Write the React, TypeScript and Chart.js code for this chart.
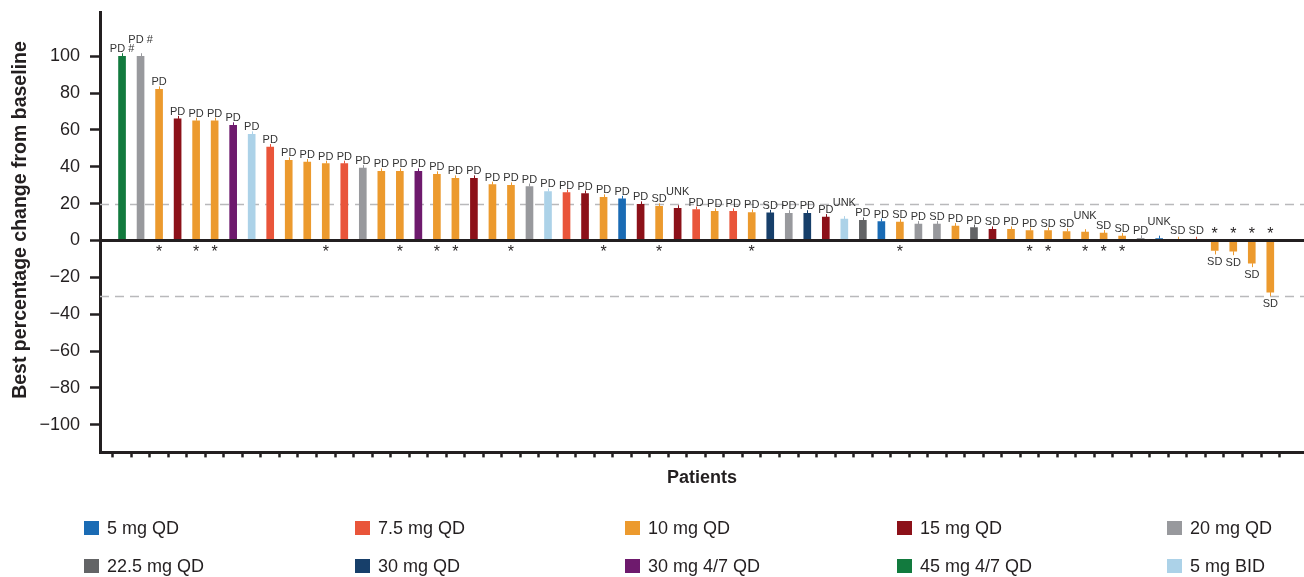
import React, { useEffect, useRef } from "react";
import { Chart, registerables } from "chart.js";

Chart.register(...registerables);

// Dose groups (legend order)
const doseGroups = [
  "5 mg QD",
  "7.5 mg QD",
  "10 mg QD",
  "15 mg QD",
  "20 mg QD",
  "22.5 mg QD",
  "30 mg QD",
  "30 mg 4/7 QD",
  "45 mg 4/7 QD",
  "5 mg BID",
];
const doseColors = [
  "#1a6bb4",
  "#e9553a",
  "#ec9a2e",
  "#8c1119",
  "#98999d",
  "#636466",
  "#173f6a",
  "#6e1a6d",
  "#127a3e",
  "#acd2e8",
];

// Best percentage change from baseline, one per patient (sorted)
const bestChange = [
  100, 100, 82, 66, 65, 65, 62.5, 57.6, 50.7, 43.5,
  42.6, 41.7, 41.7, 39.3, 37.5, 37.5, 37.5, 35.9, 33.7, 33.7,
  30.3, 29.9, 29.3, 26.6, 26, 25.5, 23.4, 22.6, 19.6, 18.5,
  17.5, 16.8, 15.8, 15.8, 15.2, 15, 14.8, 14.8, 12.7, 11.6,
  10.9, 10.3, 10, 8.9, 8.9, 7.8, 7, 6, 6, 5.4,
  5.4, 4.9, 4.5, 4, 2.4, 1.2, 1, 0.4, 0.4, -5.4,
  -5.8, -12.3, -28,
];

// Dose group index per patient (into doseGroups)
const patientDose = [
  8, 4, 2, 3, 2, 2, 7, 9, 1, 2,
  2, 2, 1, 4, 2, 2, 7, 2, 2, 3,
  2, 2, 4, 9, 1, 3, 2, 0, 3, 2,
  3, 1, 2, 1, 2, 6, 4, 6, 3, 9,
  5, 0, 2, 4, 4, 2, 5, 3, 2, 2,
  2, 2, 2, 2, 2, 4, 0, 2, 1, 2,
  2, 2, 2,
];

// Best response per patient
const responses = [
  "PD #", "PD #", "PD", "PD", "PD", "PD", "PD", "PD", "PD", "PD",
  "PD", "PD", "PD", "PD", "PD", "PD", "PD", "PD", "PD", "PD",
  "PD", "PD", "PD", "PD", "PD", "PD", "PD", "PD", "PD", "SD",
  "UNK", "PD", "PD", "PD", "PD", "SD", "PD", "PD", "PD", "UNK",
  "PD", "PD", "SD", "PD", "SD", "PD", "PD", "SD", "PD", "PD",
  "SD", "SD", "UNK", "SD", "SD", "PD", "UNK", "SD", "SD", "SD",
  "SD", "SD", "SD",
];

// Patients (1-based) flagged with an asterisk
const starredPatients = [3, 5, 6, 12, 16, 18, 19, 22, 27, 30, 35, 43, 50, 51, 53, 54, 55, 60, 61, 62, 63];
// Patients (1-based) whose response label is lifted to avoid overlap
const liftedLabels = [2, 31, 40, 53, 57];

const yTicks = [-100, -80, -60, -40, -20, 0, 20, 40, 60, 80, 100];
const refLines = [20, -30];
const yTitle = "Best percentage change from baseline";

const FONT = "'Liberation Sans', Arial, Helvetica, sans-serif";
const INK = "#231f20";

const overlayPlugin = {
  id: "overlay",
  beforeDatasetsDraw(chart: any) {
    const { ctx, chartArea, scales } = chart;
    ctx.save();
    ctx.strokeStyle = "#b9b9bb";
    ctx.lineWidth = 1.5;
    ctx.setLineDash([9, 6]);
    refLines.forEach((v) => {
      const y = Math.round(scales.y.getPixelForValue(v)) + 0.5;
      ctx.beginPath();
      ctx.moveTo(chartArea.left, y);
      ctx.lineTo(chartArea.right, y);
      ctx.stroke();
    });
    ctx.restore();
  },
  afterDatasetsDraw(chart: any) {
    const { ctx, chartArea, scales } = chart;
    const meta = chart.getDatasetMeta(0);
    const zeroY = scales.y.getPixelForValue(0);
    ctx.save();
    // whiskers
    meta.data.forEach((bar: any, i: number) => {
      const v = bestChange[i];
      ctx.strokeStyle = doseColors[patientDose[i]];
      ctx.lineWidth = 1;
      ctx.beginPath();
      const x = Math.round(bar.x) + 0.5;
      if (v >= 0) {
        ctx.moveTo(x, bar.y);
        ctx.lineTo(x, bar.y - 3);
      } else {
        ctx.moveTo(x, bar.y);
        ctx.lineTo(x, bar.y + 4);
      }
      ctx.stroke();
    });
    // zero line
    ctx.strokeStyle = INK;
    ctx.lineWidth = 3;
    ctx.beginPath();
    ctx.moveTo(chartArea.left, zeroY);
    ctx.lineTo(chartArea.right, zeroY);
    ctx.stroke();
    // labels
    ctx.fillStyle = "#333333";
    ctx.textAlign = "center";
    ctx.font = `11px ${FONT}`;
    meta.data.forEach((bar: any, i: number) => {
      const v = bestChange[i];
      const lift = liftedLabels.includes(i + 1) ? 9 : 0;
      if (v >= 0) {
        ctx.textBaseline = "alphabetic";
        ctx.fillText(responses[i], bar.x, Math.min(bar.y, zeroY - 2) - 4 - lift);
      } else {
        ctx.textBaseline = "top";
        ctx.fillText(responses[i], bar.x, bar.y + 6);
      }
    });
    // asterisks
    ctx.fillStyle = INK;
    ctx.font = `16px ${FONT}`;
    ctx.textBaseline = "alphabetic";
    meta.data.forEach((bar: any, i: number) => {
      if (!starredPatients.includes(i + 1)) return;
      const v = bestChange[i];
      ctx.fillText("*", bar.x, v >= 0 ? zeroY + 17 : zeroY - 1);
    });
    ctx.restore();
  },
  afterDraw(chart: any) {
    const { ctx } = chart;
    // y-axis title
    ctx.save();
    ctx.translate(21, 220);
    ctx.rotate(-Math.PI / 2);
    ctx.font = `bold 19.5px ${FONT}`;
    ctx.fillStyle = INK;
    ctx.textAlign = "center";
    ctx.textBaseline = "middle";
    ctx.fillText(yTitle, 0, 0);
    ctx.restore();
    // legend
    const colX = [84, 355, 625, 897, 1167];
    const rowY = [528, 566];
    ctx.save();
    ctx.font = `18px ${FONT}`;
    ctx.textBaseline = "middle";
    ctx.textAlign = "left";
    doseGroups.forEach((name, k) => {
      const x = colX[k % 5];
      const y = rowY[Math.floor(k / 5)];
      ctx.fillStyle = doseColors[k];
      ctx.fillRect(x, y - 7, 15, 14);
      ctx.fillStyle = INK;
      ctx.fillText(name, x + 23, y + 1);
    });
    ctx.restore();
  },
};

export default function App() {
  const canvasRef = useRef<HTMLCanvasElement | null>(null);

  useEffect(() => {
    const canvas = canvasRef.current;
    if (!canvas) return;
    const chart = new Chart(canvas, {
      type: "bar",
      data: {
        datasets: [
          {
            data: bestChange.map((v, i) => ({ x: i, y: v })),
            backgroundColor: patientDose.map((d) => doseColors[d]),
            borderWidth: 0,
            barThickness: 7,
          } as any,
        ],
      },
      options: {
        responsive: false,
        maintainAspectRatio: false,
        animation: false,
        layout: { padding: { top: 12, right: 0, bottom: 88, left: 0 } },
        plugins: { legend: { display: false }, tooltip: { enabled: false } },
        scales: {
          x: {
            type: "linear",
            min: -1.19,
            max: 63.82,
            offset: false,
            afterBuildTicks: (s: any) => {
              s.ticks = bestChange.map((_, i) => ({ value: i }));
            },
            afterFit: (s: any) => {
              s.paddingLeft = 0;
              s.paddingRight = 0;
            },
            ticks: { display: false },
            grid: {
              drawOnChartArea: false,
              drawTicks: true,
              tickLength: 5,
              tickWidth: 2.5,
              color: INK,
            },
            border: { display: true, color: INK, width: 3 },
            title: {
              display: true,
              text: "Patients",
              color: INK,
              font: { family: FONT, size: 18, weight: "bold" },
              padding: { top: 10, bottom: 0 },
            },
          },
          y: {
            min: -115,
            max: 124,
            afterBuildTicks: (s: any) => {
              s.ticks = yTicks.map((v) => ({ value: v }));
            },
            afterFit: (s: any) => {
              s.width = 100;
              s.paddingTop = 0;
              s.paddingBottom = 0;
            },
            ticks: {
              color: INK,
              font: { family: FONT, size: 18 },
              padding: 10,
              callback: (v: any) => (Number(v) < 0 ? "\u2212" + Math.abs(Number(v)) : String(v)),
            },
            grid: {
              drawOnChartArea: false,
              drawTicks: true,
              tickLength: 10,
              tickWidth: 2.5,
              color: INK,
            },
            border: { display: true, color: INK, width: 3 },
            title: { display: false },
          },
        },
      } as any,
      plugins: [overlayPlugin],
    });
    return () => chart.destroy();
  }, []);

  return (
    <div
      style={{
        position: "fixed",
        left: 0,
        top: 0,
        width: 1304,
        height: 577,
        background: "#ffffff",
      }}
    >
      <canvas ref={canvasRef} width={1304} height={577} style={{ display: "block" }} />
    </div>
  );
}
